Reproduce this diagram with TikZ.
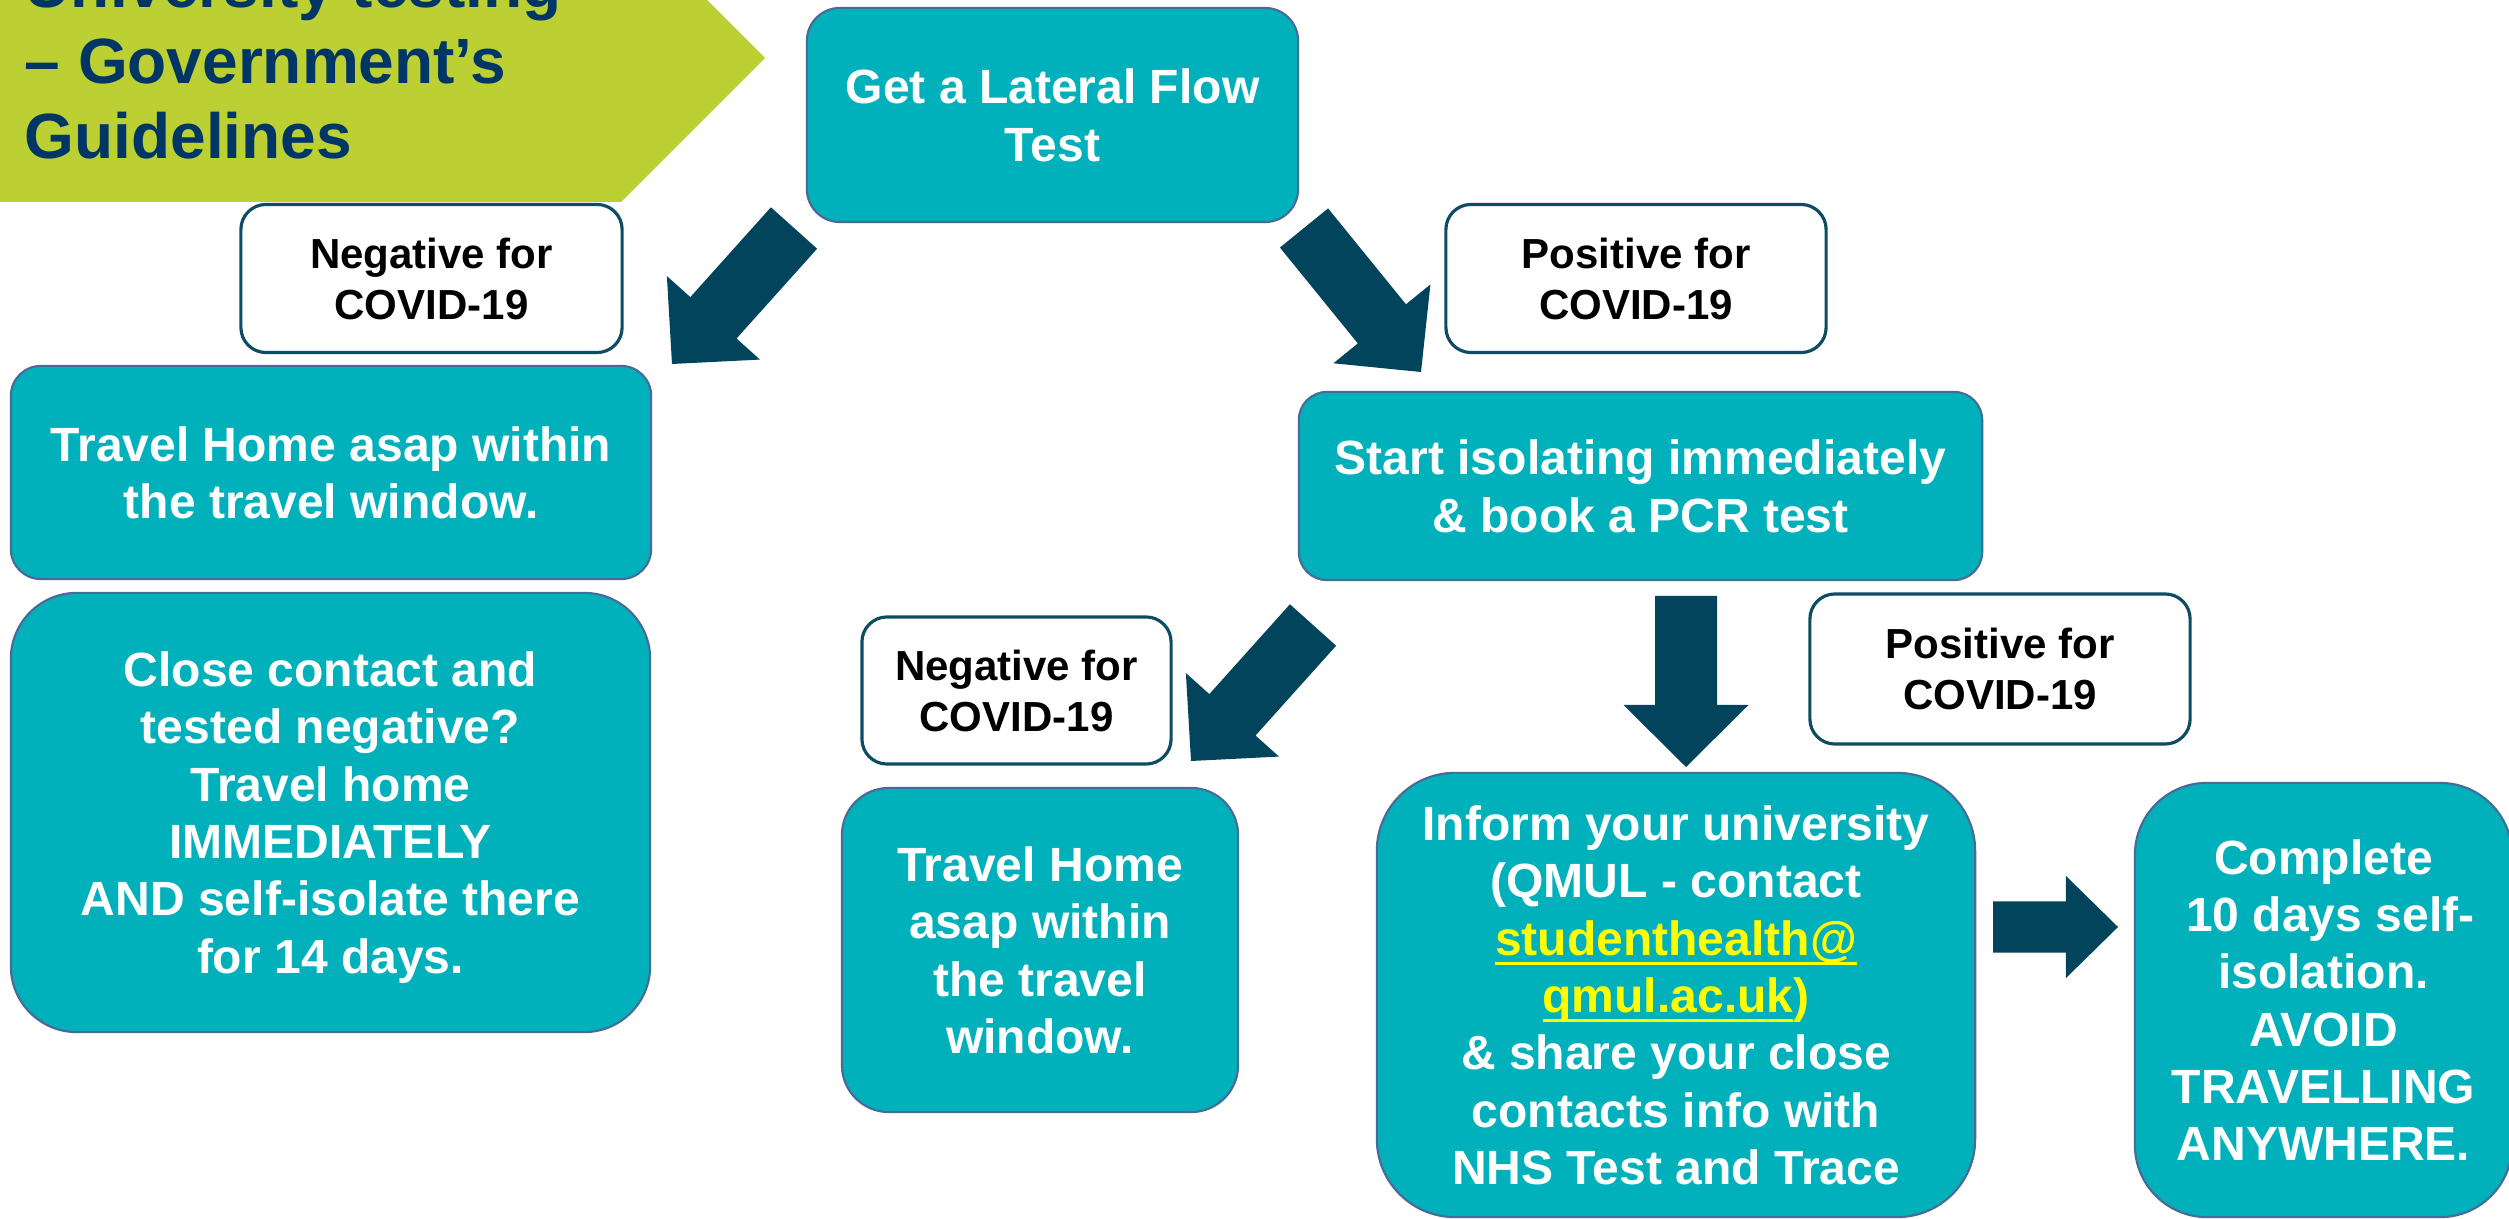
\documentclass[tikz,border=0pt]{standalone}
\usepackage{fontspec}
\setmainfont{Liberation Sans}
\usetikzlibrary{calc}

\definecolor{boxteal}{RGB}{0,177,187}
\definecolor{boxedge}{RGB}{72,106,150}
\definecolor{labeledge}{RGB}{14,76,98}
\definecolor{arrowblue}{RGB}{1,68,92}
\definecolor{bannergreen}{RGB}{188,208,52}
\definecolor{titleblue}{RGB}{0,54,101}
\definecolor{mailyellow}{RGB}{255,255,0}

% underlined mail address
\newcommand{\mailline}[1]{\sbox0{#1}\rlap{\rule[-2.85pt]{\wd0}{0.95pt}}\usebox0}

% thick block arrow: tail, tip, half shaft, half head, head length
\newcommand{\fatarrow}[5]{%
  \coordinate (fa-b) at ($(#2)!#5!(#1)$);
  \fill[arrowblue] ($(#1)!#3!90:(#2)$) -- ($(fa-b)!#3!90:(#2)$) -- ($(fa-b)!#4!90:(#2)$) -- (#2)
    -- ($(fa-b)!#4!-90:(#2)$) -- ($(fa-b)!#3!-90:(#2)$) -- ($(#1)!#3!-90:(#2)$) -- cycle;
}

\tikzset{
  action/.style={draw=boxedge, line width=0.6pt, fill=boxteal, text=white, align=center,
    inner sep=0pt, text depth=0pt, font=\bfseries\fontsize{13.66pt}{16.3pt}\selectfont},
  result/.style={draw=labeledge, line width=0.9pt, fill=white, text=black, align=center,
    inner sep=0pt, minimum height=1.48cm, rounded corners=0.25cm,
    font=\bfseries\fontsize{11.95pt}{14.5pt}\selectfont},
}

\begin{document}
\begin{tikzpicture}[x=0.01cm, y=-0.01cm]
\clip (0,0) rectangle (2509,1219);
\fill[white] (0,0) rectangle (2509,1219);

% title banner
\fill[bannergreen] (0,-90) -- (617,-90) -- (765,58) -- (621,202) -- (0,202) -- cycle;
\node[anchor=north west, inner sep=0pt, align=left, text=titleblue,
  font=\bfseries\fontsize{18.2pt}{21.6pt}\selectfont] (title) at (24,-40)
  {University testing\\-- Government’s\\Guidelines};

\node[action, minimum width=4.91cm, minimum height=2.14cm, rounded corners=0.33cm] (flow) at (1052.5,115) {Get a Lateral Flow\\Test};

\node[result, minimum width=3.81cm] (negA) at (431.5,278.5) {Negative for\\COVID-19};
\node[result, minimum width=3.80cm] (posA) at (1636,278.5) {Positive for\\COVID-19};

\node[action, minimum width=6.40cm, minimum height=2.13cm, rounded corners=0.3cm] (travelA) at (331,472.5) {Travel Home asap within\\the travel window.};
\node[action, minimum width=6.39cm, minimum height=4.39cm, rounded corners=0.66cm] (closeA) at (330.5,812.5) {Close contact and\\tested negative?\\Travel home\\IMMEDIATELY\\AND self-isolate there\\for 14 days.};

\node[action, minimum width=6.83cm, minimum height=1.88cm, rounded corners=0.28cm] (isolate) at (1640.5,486) {Start isolating immediately\\\& book a PCR test};

\node[result, minimum width=3.09cm, minimum height=1.47cm] (negB) at (1016.5,690.5) {Negative for\\COVID-19};
\node[result, minimum width=3.80cm, minimum height=1.50cm] (posB) at (2000,669) {Positive for\\COVID-19};

\node[action, minimum width=3.96cm, minimum height=3.24cm, rounded corners=0.47cm] (travelB) at (1040,950) {Travel Home\\asap within\\the travel\\window.};
\node[action, minimum width=5.98cm, minimum height=4.44cm, rounded corners=0.78cm] (inform) at (1676,995)
  {Inform your university\\(QMUL - contact\\{\color{mailyellow}\mailline{studenthealth@}}\\{\color{mailyellow}\mailline{qmul.ac.uk})}\\\& share your close\\contacts info with\\NHS Test and Trace};
\node[action, minimum width=3.77cm, minimum height=4.34cm, rounded corners=0.72cm] (complete) at (2323.5,1000)
  {Complete\\\hspace*{0.28em}10 days self-\\isolation.\\AVOID\\TRAVELLING\\ANYWHERE.};

% arrows
\coordinate (a1s) at (794,228);  \coordinate (a1e) at (672,364);
\coordinate (a2s) at (1304,228); \coordinate (a2e) at (1421,372);
\coordinate (a3s) at (1313,625); \coordinate (a3e) at (1191,761);
\coordinate (a4s) at (1686,596); \coordinate (a4e) at (1686,767);
\coordinate (a5s) at (1993,927); \coordinate (a5e) at (2118,927);

\fatarrow{a1s}{a1e}{0.31cm}{0.625cm}{0.62cm}
\fatarrow{a2s}{a2e}{0.31cm}{0.625cm}{0.62cm}
\fatarrow{a3s}{a3e}{0.31cm}{0.625cm}{0.62cm}
\fatarrow{a4s}{a4e}{0.31cm}{0.625cm}{0.62cm}
\fatarrow{a5s}{a5e}{0.255cm}{0.51cm}{0.52cm}
\end{tikzpicture}
\end{document}
